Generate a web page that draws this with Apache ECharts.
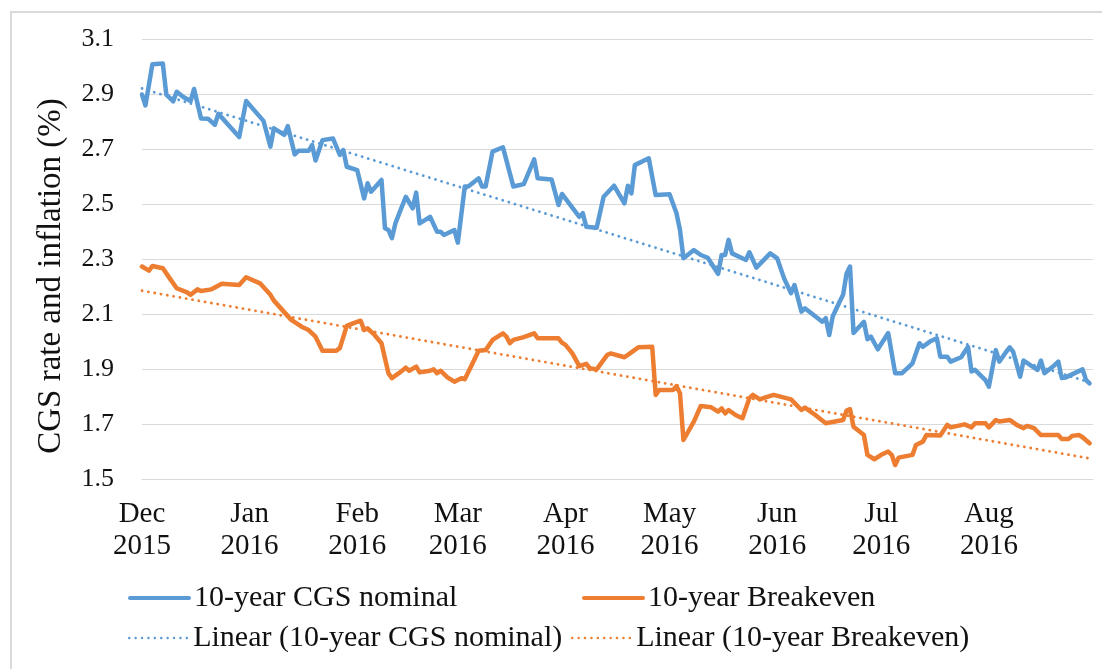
<!DOCTYPE html>
<html>
<head>
<meta charset="utf-8">
<title>CGS rate and inflation</title>
<script src="https://cdn.jsdelivr.net/npm/echarts@6/dist/echarts.min.js"></script>
<style>
  html, body { margin: 0; padding: 0; background: #fff; }
  #chart { width: 1102px; height: 669px; }
</style>
</head>
<body>
<div id="chart"></div>
<script>
// 10-year CGS nominal yield (%)
const nominalDates = [
  '2015-12-01','2015-12-02','2015-12-04','2015-12-07','2015-12-08','2015-12-10','2015-12-11','2015-12-13',
  '2015-12-15','2015-12-16','2015-12-18','2015-12-20','2015-12-22','2015-12-23','2015-12-29','2015-12-31',
  '2016-01-05','2016-01-07','2016-01-08','2016-01-11','2016-01-12','2016-01-14','2016-01-15','2016-01-18',
  '2016-01-19','2016-01-20','2016-01-22','2016-01-25','2016-01-27','2016-01-28','2016-01-29','2016-02-01',
  '2016-02-03','2016-02-04','2016-02-05','2016-02-08','2016-02-09','2016-02-10','2016-02-11','2016-02-12',
  '2016-02-15','2016-02-17','2016-02-18','2016-02-19','2016-02-22','2016-02-24','2016-02-25','2016-02-26',
  '2016-02-29','2016-03-01','2016-03-03','2016-03-04','2016-03-07','2016-03-08','2016-03-09','2016-03-11',
  '2016-03-14','2016-03-15','2016-03-17','2016-03-20','2016-03-23','2016-03-24','2016-03-28','2016-03-30',
  '2016-03-31','2016-04-05','2016-04-06','2016-04-07','2016-04-10','2016-04-12','2016-04-15','2016-04-18',
  '2016-04-19','2016-04-20','2016-04-21','2016-04-25','2016-04-27','2016-05-01','2016-05-03','2016-05-04',
  '2016-05-05','2016-05-08','2016-05-10','2016-05-12','2016-05-15','2016-05-16','2016-05-17','2016-05-18',
  '2016-05-19','2016-05-23','2016-05-24','2016-05-26','2016-05-30','2016-06-01','2016-06-03','2016-06-05',
  '2016-06-06','2016-06-08','2016-06-09','2016-06-14','2016-06-15','2016-06-16','2016-06-17','2016-06-19',
  '2016-06-20','2016-06-21','2016-06-22','2016-06-23','2016-06-26','2016-06-27','2016-06-28','2016-06-30',
  '2016-07-03','2016-07-05','2016-07-07','2016-07-10','2016-07-12','2016-07-13','2016-07-15','2016-07-17',
  '2016-07-18','2016-07-20','2016-07-21','2016-07-24','2016-07-26','2016-07-27','2016-07-28','2016-07-31',
  '2016-08-01','2016-08-03','2016-08-04','2016-08-06','2016-08-07','2016-08-08','2016-08-10','2016-08-11',
  '2016-08-15','2016-08-16','2016-08-17','2016-08-20','2016-08-21','2016-08-22','2016-08-23','2016-08-26',
  '2016-08-28','2016-08-29','2016-08-30'
];
const nominalValues = [
  2.90, 2.86, 3.01, 3.013, 2.90, 2.875, 2.91, 2.89,
  2.876, 2.92, 2.813, 2.812, 2.79, 2.83, 2.745, 2.876,
  2.804, 2.71, 2.777, 2.753, 2.785, 2.682, 2.695, 2.695,
  2.716, 2.66, 2.734, 2.74, 2.68, 2.698, 2.637, 2.625,
  2.522, 2.577, 2.546, 2.589, 2.413, 2.407, 2.377, 2.431,
  2.528, 2.486, 2.543, 2.431, 2.455, 2.401, 2.401, 2.389,
  2.407, 2.361, 2.565, 2.565, 2.595, 2.565, 2.565, 2.692,
  2.708, 2.66, 2.565, 2.574, 2.664, 2.595, 2.591, 2.498,
  2.538, 2.455, 2.468, 2.419, 2.415, 2.528, 2.568, 2.504,
  2.568, 2.54, 2.643, 2.668, 2.534, 2.537, 2.468, 2.407,
  2.304, 2.334, 2.316, 2.306, 2.247, 2.316, 2.316, 2.371,
  2.322, 2.298, 2.326, 2.27, 2.322, 2.304, 2.231, 2.177,
  2.207, 2.11, 2.122, 2.073, 2.086, 2.025, 2.092, 2.146,
  2.171, 2.249, 2.274, 2.032, 2.073, 2.01, 2.019, 1.973,
  2.032, 1.886, 1.886, 1.922, 1.995, 1.982, 2.001, 2.013,
  1.946, 1.946, 1.928, 1.944, 1.982, 1.892, 1.898, 1.861,
  1.837, 1.97, 1.928, 1.964, 1.98, 1.964, 1.873, 1.932,
  1.898, 1.932, 1.886, 1.916, 1.928, 1.868, 1.87, 1.888,
  1.90, 1.861, 1.849
];

// 10-year breakeven inflation (%)
const breakevenDates = [
  '2015-12-01','2015-12-03','2015-12-04','2015-12-07','2015-12-09','2015-12-11','2015-12-14','2015-12-15',
  '2015-12-17','2015-12-18','2015-12-21','2015-12-24','2015-12-29','2015-12-31','2016-01-04','2016-01-07',
  '2016-01-08','2016-01-13','2016-01-16','2016-01-18','2016-01-20','2016-01-22','2016-01-26','2016-01-27',
  '2016-01-29','2016-01-31','2016-02-02','2016-02-03','2016-02-04','2016-02-06','2016-02-08','2016-02-10',
  '2016-02-11','2016-02-13','2016-02-15','2016-02-16','2016-02-18','2016-02-19','2016-02-22','2016-02-23',
  '2016-02-24','2016-02-25','2016-02-27','2016-02-29','2016-03-02','2016-03-03','2016-03-05','2016-03-07',
  '2016-03-09','2016-03-11','2016-03-14','2016-03-15','2016-03-16','2016-03-17','2016-03-20','2016-03-23',
  '2016-03-24','2016-03-30','2016-03-31','2016-04-01','2016-04-03','2016-04-05','2016-04-07','2016-04-08',
  '2016-04-10','2016-04-13','2016-04-14','2016-04-18','2016-04-20','2016-04-22','2016-04-26','2016-04-27',
  '2016-04-28','2016-05-02','2016-05-03','2016-05-04','2016-05-05','2016-05-08','2016-05-10','2016-05-13',
  '2016-05-15','2016-05-16','2016-05-17','2016-05-18','2016-05-20','2016-05-22','2016-05-24','2016-05-25',
  '2016-05-27','2016-05-28','2016-05-31','2016-06-05','2016-06-08','2016-06-09','2016-06-12','2016-06-15',
  '2016-06-20','2016-06-21','2016-06-22','2016-06-23','2016-06-26','2016-06-27','2016-06-29','2016-07-01',
  '2016-07-03','2016-07-04','2016-07-05','2016-07-06','2016-07-10','2016-07-11','2016-07-13','2016-07-14',
  '2016-07-18','2016-07-20','2016-07-21','2016-07-25','2016-07-27','2016-07-28','2016-07-31','2016-08-01',
  '2016-08-03','2016-08-04','2016-08-07','2016-08-09','2016-08-11','2016-08-12','2016-08-14','2016-08-16',
  '2016-08-21','2016-08-22','2016-08-24','2016-08-25','2016-08-27','2016-08-28','2016-08-30'
];
const breakevenValues = [
  2.274, 2.259, 2.276, 2.268, 2.231, 2.195, 2.18, 2.171,
  2.191, 2.185, 2.191, 2.211, 2.207, 2.235, 2.213, 2.171,
  2.15, 2.08, 2.055, 2.043, 2.019, 1.968, 1.968, 1.977,
  2.058, 2.068, 2.077, 2.043, 2.049, 2.025, 1.995, 1.886,
  1.868, 1.886, 1.906, 1.895, 1.91, 1.889, 1.895, 1.90,
  1.886, 1.895, 1.871, 1.855, 1.868, 1.864, 1.916, 1.968,
  1.97, 2.007, 2.031, 2.019, 1.995, 2.007, 2.017, 2.031,
  2.013, 2.013, 1.997, 1.989, 1.958, 1.912, 1.92, 1.904,
  1.90, 1.952, 1.958, 1.944, 1.962, 1.98, 1.982, 1.807,
  1.825, 1.825, 1.839, 1.813, 1.643, 1.71, 1.767, 1.762,
  1.746, 1.758, 1.74, 1.752, 1.734, 1.722, 1.795, 1.807,
  1.791, 1.795, 1.807, 1.791, 1.752, 1.761, 1.734, 1.704,
  1.716, 1.75, 1.755, 1.691, 1.661, 1.589, 1.573, 1.589,
  1.601, 1.589, 1.552, 1.579, 1.589, 1.625, 1.637, 1.661,
  1.659, 1.698, 1.689, 1.70, 1.689, 1.704, 1.704, 1.689,
  1.716, 1.71, 1.716, 1.698, 1.686, 1.694, 1.686, 1.661,
  1.661, 1.647, 1.647, 1.658, 1.661, 1.653, 1.631
];

// Linear trend lines (start and end of the sample period)
const trendDates = ['2015-12-01', '2016-08-30'];
const nominalTrend = [2.922, 1.853];
const breakevenTrend = [2.186, 1.576];

// Axis settings and tick labels
const axisStart = '2015-12-01';
const axisEnd = '2016-08-31';
const monthNames = ['Jan','Feb','Mar','Apr','May','Jun','Jul','Aug','Sep','Oct','Nov','Dec'];
const yMin = 1.5, yMax = 3.1, yStep = 0.2;

const seriesNames = ['10-year CGS nominal', '10-year Breakeven',
                     'Linear (10-year CGS nominal)', 'Linear (10-year Breakeven)'];

const BLUE = '#5B9BD5';
const ORANGE = '#ED7D31';
const FONT = '"Liberation Serif", "Times New Roman", serif';
const LINE_W = 4.5;
const DOT_W = 2.8;

function zip(dates, values) {
  return dates.map((d, i) => [d, values[i]]);
}

const chart = echarts.init(document.getElementById('chart'), null, { renderer: 'canvas' });

const dotted = { type: [0.1, 6.3], cap: 'round', width: DOT_W };

// one legend block per entry so each sits in its own column/row
function legendAt(name, left, top, lineWidth) {
  return {
    data: [name],
    left: left,
    top: top,
    padding: 0,
    itemWidth: 59,
    itemHeight: 14,
    itemGap: 0,
    selectedMode: false,
    itemStyle: { opacity: 0 },
    lineStyle: { width: lineWidth },
    textStyle: { fontFamily: FONT, fontSize: 30, color: '#111', lineHeight: 32 }
  };
}

chart.setOption({
  animation: false,
  backgroundColor: '#fff',
  grid: { left: 142, right: 9, top: 39.5, bottom: 189.7, containLabel: false, outerBoundsMode: 'none' },
  xAxis: {
    type: 'time',
    min: axisStart,
    max: axisEnd,
    splitNumber: 9,
    minInterval: 28 * 86400000,
    maxInterval: 31 * 86400000,
    axisLine: { show: true, lineStyle: { color: '#D9D9D9', width: 1 } },
    axisTick: { show: false },
    splitLine: { show: false },
    axisLabel: {
      margin: 19,
      fontFamily: FONT,
      fontSize: 29,
      lineHeight: 32,
      color: '#111',
      showMinLabel: true,
      showMaxLabel: false,
      hideOverlap: false,
      formatter: function (value) {
        const d = new Date(value);
        return monthNames[d.getMonth()] + '\n' + d.getFullYear();
      }
    }
  },
  yAxis: {
    type: 'value',
    min: yMin,
    max: yMax,
    interval: yStep,
    axisLine: { show: false },
    axisTick: { show: false },
    splitLine: { show: true, lineStyle: { color: '#D9D9D9', width: 1 } },
    axisLabel: {
      margin: 28,
      fontFamily: FONT,
      fontSize: 26,
      color: '#111',
      formatter: v => v.toFixed(1)
    }
  },
  legend: [
    legendAt(seriesNames[0], 128, 582, 4),
    legendAt(seriesNames[1], 582, 582, 4),
    legendAt(seriesNames[2], 128, 622, 2.4),
    legendAt(seriesNames[3], 571, 622, 2.4)
  ],
  graphic: [
    {
      type: 'rect',
      silent: true,
      z: -10,
      shape: { x: 11, y: 12, width: 1100, height: 700 },
      style: { fill: 'none', stroke: '#D9D9D9', lineWidth: 2 }
    },
    {
      type: 'text',
      silent: true,
      x: 51,
      y: 276,
      rotation: Math.PI / 2,
      style: {
        text: 'CGS rate and inflation (%)',
        fontFamily: FONT,
        fontSize: 33,
        fill: '#111',
        align: 'center',
        verticalAlign: 'middle'
      }
    }
  ],
  series: [
    {
      name: seriesNames[0],
      type: 'line',
      data: zip(nominalDates, nominalValues),
      symbol: 'none',
      z: 2,
      itemStyle: { color: BLUE },
      lineStyle: { color: BLUE, width: LINE_W, join: 'round', cap: 'round' }
    },
    {
      name: seriesNames[1],
      type: 'line',
      data: zip(breakevenDates, breakevenValues),
      symbol: 'none',
      z: 2,
      itemStyle: { color: ORANGE },
      lineStyle: { color: ORANGE, width: LINE_W, join: 'round', cap: 'round' }
    },
    {
      name: seriesNames[2],
      type: 'line',
      data: zip(trendDates, nominalTrend),
      symbol: 'none',
      z: 3,
      itemStyle: { color: BLUE },
      lineStyle: Object.assign({ color: BLUE }, dotted)
    },
    {
      name: seriesNames[3],
      type: 'line',
      data: zip(trendDates, breakevenTrend),
      symbol: 'none',
      z: 3,
      itemStyle: { color: ORANGE },
      lineStyle: Object.assign({ color: ORANGE }, dotted)
    }
  ]
});
</script>
</body>
</html>
